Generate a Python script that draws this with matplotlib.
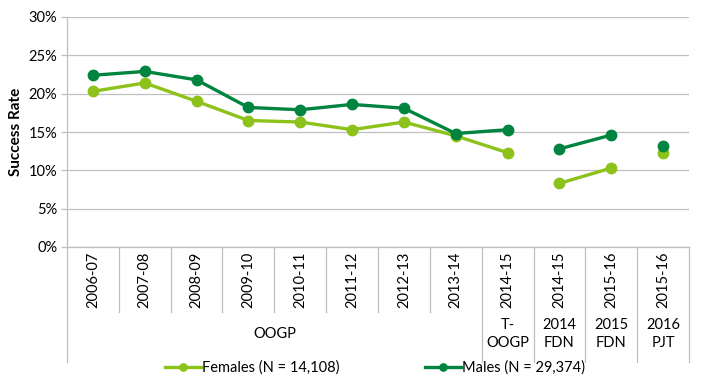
import numpy as np
from matplotlib import pyplot as plt
from matplotlib.transforms import blended_transform_factory

# data
years = ["2006-07", "2007-08", "2008-09", "2009-10", "2010-11", "2011-12",
         "2012-13", "2013-14", "2014-15", "2014-15", "2015-16", "2015-16"]
groups = ["OOGP", "T-\nOOGP", "2014\nFDN", "2015\nFDN", "2016\nPJT"]
group_spans = [(0, 7), (8, 8), (9, 9), (10, 10), (11, 11)]
females = [20.3, 21.4, 19.0, 16.5, 16.3, 15.3, 16.3, 14.5, 12.3, 8.3, 10.3, 12.2]
males = [22.4, 22.9, 21.8, 18.2, 17.9, 18.6, 18.1, 14.8, 15.3, 12.8, 14.6, 13.2]
segments = [(0, 8), (9, 10), (11, 11)]

fem_color = "#8CC21A"
male_color = "#00843F"
grid_color = "#BFBFBF"
fs = 10.5

plt.rcParams['font.family'] = ['Lato', 'DejaVu Sans']

fig = plt.figure(figsize=(7.02, 3.84), dpi=100)
ax = fig.add_axes([67 / 702, 137 / 384, 622 / 702, 230 / 384])

x = np.arange(len(years))
for series, color, label in [(females, fem_color, "Females (N = 14,108)"),
                             (males, male_color, "Males (N = 29,374)")]:
    vals = np.array(series)
    for k, (a, b) in enumerate(segments):
        ax.plot(x[a:b + 1], vals[a:b + 1], color=color, lw=2.4, marker="o",
                markersize=7.5, label=label if k == 0 else None, zorder=3)

ax.set_xlim(-0.5, len(years) - 0.5)
ax.set_ylim(0, 30)
ax.set_yticks(range(0, 31, 5))
ax.set_yticklabels([f"{v}%" for v in range(0, 31, 5)], fontsize=fs)
ax.grid(axis="y", color=grid_color, lw=0.9)
ax.set_axisbelow(True)
ax.tick_params(axis="y", length=4, color=grid_color, width=0.9, pad=3)
ax.set_xticks([])
for side in ["top", "right"]:
    ax.spines[side].set_visible(False)
ax.spines["left"].set_color(grid_color)
ax.spines["bottom"].set_color(grid_color)
ax.spines["left"].set_linewidth(0.9)
ax.spines["bottom"].set_linewidth(0.9)
ax.set_ylabel("Success Rate", fontsize=11, fontweight="bold", labelpad=4)

# two-level category axis
trans = blended_transform_factory(ax.transData, ax.transAxes)
inner_y = -65 / 230
outer_y = -115 / 230
for i, label in enumerate(years):
    ax.text(i, -33 / 230, label, transform=trans, rotation=90,
            ha="center", va="center", fontsize=fs)
group_edges = {a - 0.5 for a, b in group_spans} | {b + 0.5 for a, b in group_spans}
for i in range(len(years) + 1):
    edge = i - 0.5
    bottom = outer_y if edge in group_edges else inner_y
    ax.plot([edge, edge], [0, bottom], transform=trans, color=grid_color,
            lw=0.9, clip_on=False)
for (a, b), name in zip(group_spans, groups):
    ax.text((a + b) / 2, -87 / 230, name, transform=trans, ha="center",
            va="center", fontsize=fs, linespacing=1.4)

fig.legend(loc="center", bbox_to_anchor=(375 / 702, 16 / 384), ncol=2,
           frameon=False, fontsize=fs, handlelength=2.5, markerscale=0.7,
           columnspacing=5.8, handletextpad=0.1)

fig.savefig("out.png", dpi=100)
